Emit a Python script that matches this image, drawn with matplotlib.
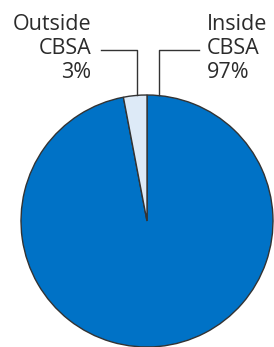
import matplotlib
matplotlib.use("Agg")
import matplotlib.pyplot as plt

labels = ["Inside\nCBSA", "Outside\nCBSA"]
values = [97, 3]
colors = ["#0072C6", "#DDEAF7"]

W, H = 274, 347
fig = plt.figure(figsize=(W / 100, H / 100), dpi=100)
ax = fig.add_axes([0, 0, 1, 1])

cx, cy, r = 147, H - 221, 126
ax.pie(values, colors=colors, startangle=90, counterclock=False,
       center=(cx, cy), radius=r, frame=True,
       wedgeprops=dict(edgecolor="#333333", linewidth=1.0))
ax.set_xlim(0, W)
ax.set_ylim(0, H)
ax.set_aspect("equal")
ax.axis("off")

font = dict(family="Open Sans", fontsize=15.5, color="#2b2b2b", linespacing=1.2)
ax.text(91, H - 14, labels[1] + f"\n{values[1]}%", ha="right", va="top", **font)
ax.text(207, H - 14, labels[0] + f"\n{values[0]}%", ha="left", va="top", **font)

lc = "#333333"
ax.plot([101, 137, 137], [H - 50, H - 50, H - 95], color=lc, lw=1.0)
ax.plot([199, 159, 159], [H - 50, H - 50, H - 95], color=lc, lw=1.0)

fig.savefig("out.png", dpi=100)
